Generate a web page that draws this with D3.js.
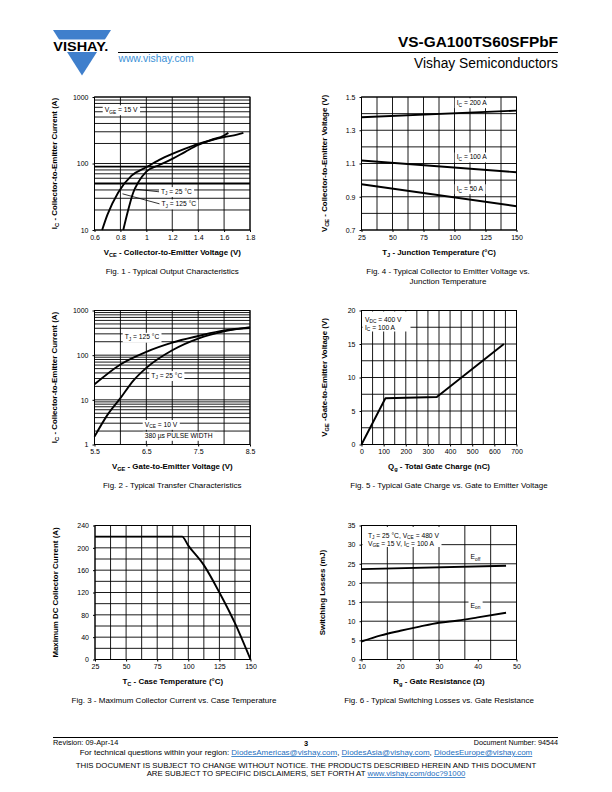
<!DOCTYPE html>
<html><head><meta charset="utf-8">
<script src="https://cdn.jsdelivr.net/npm/d3@7/dist/d3.min.js"></script>
<style>
body{margin:0;background:#fff}
svg{display:block}
text{font-family:"Liberation Sans",Arial,Helvetica,sans-serif;fill:#000}
</style></head><body>
<svg id="page" width="612" height="792"></svg>
<script>
// ---------------- DATA ----------------
// Fig. 1 - Typical Output Characteristics (VGE = 15 V)
const fig1Vce25  = [0.822,0.86,0.899,0.937,1.0,1.1,1.2,1.3,1.4,1.5,1.6,1.633];
const fig1Ic25   = [10,20,36.7,52,75.5,95,117,150,190,226,264,289];
const fig1Vce125 = [0.659,0.7,0.783,0.886,1.0,1.1,1.2,1.3,1.4,1.5,1.6,1.7,1.749];
const fig1Ic125  = [10,17,36.7,65.6,87.8,113,139,167,197,224,249,272,289];
const fig1XTicks = [0.6,0.8,1,1.2,1.4,1.6,1.8];
const fig1YTicks = [10,100,1000];

// Fig. 2 - Typical Transfer Characteristics
const fig2Vge25  = [5.5,5.75,6.0,6.25,6.5,7.0,7.5,8.0,8.5];
const fig2Ic25   = [1.5,4.6,10.9,27,52,129,235,341,424];
const fig2Vge125 = [5.5,6.0,6.5,7.0,7.5,8.0,8.5];
const fig2Ic125  = [22.3,62,119,191,268,359,405];
const fig2XTicks = [5.5,6.5,7.5,8.5];
const fig2YTicks = [1,10,100,1000];

// Fig. 3 - Maximum Collector Current vs. Case Temperature
const fig3Tc = [25,95,100,112.5,125,137.5,150];
const fig3Ic = [220,220,204,169,120,65,0];
const fig3XTicks = [25,50,75,100,125,150];
const fig3YTicks = [0,40,80,120,160,200,240];

// Fig. 4 - Typical Collector to Emitter Voltage vs. Junction Temperature
const fig4Tj = [25,150];
const fig4Vce200 = [1.378,1.418];
const fig4Vce100 = [1.118,1.047];
const fig4Vce50  = [0.975,0.843];
const fig4XTicks = [25,50,75,100,125,150];
const fig4YTicks = [0.7,0.9,1.1,1.3,1.5];

// Fig. 5 - Typical Gate Charge vs. Gate to Emitter Voltage
const fig5Qg  = [0,108,340,643];
const fig5Vge = [0,6.9,7.1,15];
const fig5XTicks = [0,100,200,300,400,500,600,700];
const fig5YTicks = [0,5,10,15,20];

// Fig. 6 - Typical Switching Losses vs. Gate Resistance
const fig6RgOff = [10,47.3];
const fig6Eoff  = [23.6,24.5];
const fig6RgOn  = [10,15,20,25,30,35,40,47.3];
const fig6Eon   = [4.7,6.3,7.5,8.6,9.6,10.2,11.0,12.2];
const fig6XTicks = [10,20,30,40,50];
const fig6YTicks = [0,5,10,15,20,25,30,35];

// ---------------- DRAWING ----------------
const svg = d3.select("#page");
const FONT = '"Liberation Sans",Arial,sans-serif';

// rich text: "I{C} = 100 A" -> braces mark subscript
function rich(sel, str, size){
  sel.attr("font-size", size);
  const parts = str.split(/(\{[^}]*\})/).filter(s=>s.length);
  let shifted = false;
  parts.forEach(p=>{
    if(p[0]==="{"){
      sel.append("tspan").attr("font-size", size*0.72).attr("dy", size*0.28).text(p.slice(1,-1));
      shifted = true;
    } else {
      const t = sel.append("tspan").text(p);
      if(shifted){ t.attr("dy", -size*0.28); shifted=false; }
    }
  });
  return sel;
}
function label(g, x, y, str, size, opts={}){
  const t = g.append("text").attr("x", x).attr("y", y)
    .attr("text-anchor", opts.anchor||"start")
    .attr("font-weight", opts.bold?"bold":"normal");
  rich(t, str, size);
  if(opts.bg){
    const b = t.node().getBBox();
    g.insert("rect", function(){return t.node();})
      .attr("x", b.x-2).attr("y", b.y-0.5).attr("width", b.width+4).attr("height", b.height+1)
      .attr("fill", "#fff");
  }
  return t;
}

function chart(cfg){
  const g = svg.append("g");
  const x = (cfg.xlog?d3.scaleLog():d3.scaleLinear()).domain(cfg.xdom).range([cfg.x0, cfg.x0+cfg.w]);
  const y = (cfg.ylog?d3.scaleLog():d3.scaleLinear()).domain(cfg.ydom).range([cfg.y0+cfg.h, cfg.y0]);
  const grid = g.append("g").attr("stroke","#000").attr("stroke-width",0.9);
  grid.selectAll("line.v").data(cfg.xgrid).enter().append("line")
    .attr("x1", d=>x(d)).attr("x2", d=>x(d)).attr("y1", cfg.y0).attr("y2", cfg.y0+cfg.h);
  grid.selectAll("line.h").data(cfg.ygrid).enter().append("line")
    .attr("y1", d=>y(d)).attr("y2", d=>y(d)).attr("x1", cfg.x0).attr("x2", cfg.x0+cfg.w)
    .attr("stroke-width", d=> (cfg.thick && cfg.thick.includes(d)) ? 1.8 : 0.9);
  g.append("rect").attr("x", cfg.x0).attr("y", cfg.y0).attr("width", cfg.w).attr("height", cfg.h)
    .attr("fill","none").attr("stroke","#000").attr("stroke-width",1);

  const ax = g.append("g").attr("transform", `translate(0,${cfg.y0+cfg.h})`)
    .call(d3.axisBottom(x).tickValues(cfg.xticks).tickFormat(cfg.xfmt||(d=>d)).tickSize(2).tickPadding(3));
  const ay = g.append("g").attr("transform", `translate(${cfg.x0},0)`)
    .call(d3.axisLeft(y).tickValues(cfg.yticks).tickFormat(cfg.yfmt||(d=>d)).tickSize(2).tickPadding(4));
  [ax,ay].forEach(a=>{
    a.select(".domain").remove();
    a.selectAll("text").attr("font-size", 7).attr("font-family", FONT).attr("fill","#000");
    a.selectAll("line").attr("stroke","#000");
  });

  return {g,x,y};
}
function curve(c, xs, ys, smooth){
  const pts = xs.map((v,i)=>[v, ys[i]]);
  const line = d3.line().x(d=>c.x(d[0])).y(d=>c.y(d[1])).curve(smooth?d3.curveMonotoneX:d3.curveLinear);
  c.g.append("path").attr("d", line(pts)).attr("fill","none").attr("stroke","#000")
    .attr("stroke-width",1.9).attr("stroke-linejoin","round");
}
function titles(c, cfg, xt, yt, cap){
  const cx = cfg.x0 + cfg.w/2;
  label(svg, cx, cfg.y0+cfg.h+24.5, xt, 7.9, {anchor:"middle", bold:true});
  const yc = cfg.y0 + cfg.h/2;
  const t = svg.append("text").attr("transform", `translate(${cfg.ytx},${yc}) rotate(-90)`)
    .attr("text-anchor","middle").attr("font-weight","bold");
  rich(t, yt, 7.9);
  cap.forEach((s,i)=>label(svg, cfg.capx||cx, cfg.y0+cfg.h+43.5+i*10, s, 8, {anchor:"middle"}));
}
function logGrid(lo, hi){
  const out=[];
  for(let d=lo; d<hi; d*=10){ for(let k=1;k<=10;k++){ const v=+(d*k).toPrecision(6); if(v<=hi && !out.includes(v)) out.push(v); } }
  return out;
}
function stepGrid(a,b,n){ return d3.range(n+1).map(i=>a+(b-a)*i/n); }

// ---------- Header ----------
const hdr = svg.append("g");
hdr.append("polygon").attr("points","53,30 111,30 82,75.5").attr("fill","#3f7fcc");
hdr.append("rect").attr("x",50).attr("y",39.5).attr("width",65).attr("height",12.5).attr("fill","#fff");
hdr.append("text").attr("x",53.3).attr("y",50.8).attr("font-size",13).attr("font-weight","bold")
  .attr("textLength",55).attr("lengthAdjust","spacingAndGlyphs").text("VISHAY.");
hdr.append("text").attr("x",118.5).attr("y",62).attr("font-size",10.3).style("fill","#3a8fd6").text("www.vishay.com");
hdr.append("line").attr("x1",118).attr("x2",558).attr("y1",52.5).attr("y2",52.5).attr("stroke","#000").attr("stroke-width",1);
hdr.append("text").attr("x",558).attr("y",47).attr("text-anchor","end").attr("font-size",15.4).attr("font-weight","bold").text("VS-GA100TS60SFPbF");
hdr.append("text").attr("x",558).attr("y",67.5).attr("text-anchor","end").attr("font-size",13.8).text("Vishay Semiconductors");

// ---------- Fig 1 ----------
const cfg1 = {x0:94.5,y0:97,w:155.5,h:133,xdom:[0.6,1.8],ydom:[10,1000],ylog:true,
  xgrid:fig1XTicks, ygrid:logGrid(10,1000), thick:[50,90], xticks:fig1XTicks, yticks:fig1YTicks, ytx:57};
const c1 = chart(cfg1);
curve(c1, fig1Vce25, fig1Ic25, true);
curve(c1, fig1Vce125, fig1Ic125, true);
c1.g.append("line").attr("x1",c1.x(0.92)).attr("y1",c1.y(41)).attr("x2",c1.x(1.1)).attr("y2",c1.y(37.5)).attr("stroke","#000").attr("stroke-width",0.8);
c1.g.append("line").attr("x1",c1.x(0.816)).attr("y1",c1.y(35)).attr("x2",c1.x(1.11)).attr("y2",c1.y(24.5)).attr("stroke","#000").attr("stroke-width",0.8);
label(c1.g, 104.7, 111.8, "V{GE} = 15 V", 6.7, {bg:true});
label(c1.g, 161, 193.6, "T{J} = 25 °C", 6.7, {bg:true});
label(c1.g, 161.5, 206, "T{J} = 125 °C", 6.7, {bg:true});
titles(c1, cfg1, "V{CE} - Collector-to-Emitter Voltage (V)", "I{C} - Collector-to-Emitter Current (A)", ["Fig. 1 - Typical Output Characteristics"]);

// ---------- Fig 4 ----------
const cfg4 = {x0:361.5,y0:97,w:155,h:133,xdom:[25,150],ydom:[0.7,1.5],capx:448,
  xgrid:stepGrid(25,150,10), ygrid:stepGrid(0.7,1.5,8), xticks:fig4XTicks, yticks:fig4YTicks, yfmt:d3.format(".1f"), ytx:327};
const c4 = chart(cfg4);
curve(c4, fig4Tj, fig4Vce200);
curve(c4, fig4Tj, fig4Vce100);
curve(c4, fig4Tj, fig4Vce50);
label(c4.g, 456.7, 104.8, "I{C} = 200 A", 6.7, {bg:true});
label(c4.g, 456.7, 159, "I{C} = 100 A", 6.7, {bg:true});
label(c4.g, 456.7, 190.8, "I{C} = 50 A", 6.7, {bg:true});
titles(c4, cfg4, "T{J} - Junction Temperature (°C)", "V{CE} - Collector-to-Emitter Voltage (V)",
  ["Fig. 4 - Typical Collector to Emitter Voltage vs.", "Junction Temperature"]);

// ---------- Fig 2 ----------
const cfg2 = {x0:94.5,y0:310.5,w:155.5,h:134,xdom:[5.5,8.5],ydom:[1,1000],ylog:true,
  xgrid:stepGrid(5.5,8.5,6), ygrid:logGrid(1,1000), xticks:fig2XTicks, yticks:fig2YTicks, ytx:57};
const c2 = chart(cfg2);
curve(c2, fig2Vge25, fig2Ic25, true);
curve(c2, fig2Vge125, fig2Ic125, true);
label(c2.g, 124.7, 339.3, "T{J} = 125 °C", 6.7, {bg:true});
label(c2.g, 151.3, 377.6, "T{J} = 25 °C", 6.7, {bg:true});
label(c2.g, 144.7, 426.5, "V{CE} = 10 V", 6.7, {bg:true});
label(c2.g, 144.7, 438.3, "380 µs PULSE WIDTH", 6.7, {bg:true});
titles(c2, cfg2, "V{GE} - Gate-to-Emitter Voltage (V)", "I{C} - Collector-to-Emitter Current (A)", ["Fig. 2 - Typical Transfer Characteristics"]);

// ---------- Fig 5 ----------
const cfg5 = {x0:361.5,y0:310.5,w:155,h:134,xdom:[0,700],ydom:[0,20],capx:449,
  xgrid:stepGrid(0,700,14), ygrid:stepGrid(0,20,8), xticks:fig5XTicks, yticks:fig5YTicks, ytx:327};
const c5 = chart(cfg5);
c5.g.append("rect").attr("x",362.5).attr("y",311.5).attr("width",48).attr("height",20).attr("fill","#fff");
curve(c5, fig5Qg, fig5Vge);
label(c5.g, 365, 321.5, "V{DC} = 400 V", 6.7);
label(c5.g, 365, 329.5, "I{C} = 100 A", 6.7);
titles(c5, cfg5, "Q{g} - Total Gate Charge (nC)", "V{GE} -Gate-to-Emitter Voltage (V)", ["Fig. 5 - Typical Gate Charge vs. Gate to Emitter Voltage"]);

// ---------- Fig 3 ----------
const cfg3 = {x0:95,y0:525.5,w:155.5,h:134,xdom:[25,150],ydom:[0,240],capx:174,
  xgrid:stepGrid(25,150,10), ygrid:stepGrid(0,240,12), xticks:fig3XTicks, yticks:fig3YTicks, ytx:58};
const c3 = chart(cfg3);
curve(c3, fig3Tc, fig3Ic, true);
titles(c3, cfg3, "T{C} - Case Temperature (°C)", "Maximum DC Collector Current (A)", ["Fig. 3 - Maximum Collector Current vs. Case Temperature"]);

// ---------- Fig 6 ----------
const cfg6 = {x0:361.5,y0:525.5,w:155,h:134,xdom:[10,50],ydom:[0,35],
  xgrid:stepGrid(10,50,6), ygrid:stepGrid(0,35,7), xticks:fig6XTicks, yticks:fig6YTicks, ytx:325};
const c6 = chart(cfg6);
c6.g.append("rect").attr("x",362.5).attr("y",527).attr("width",79).attr("height",20).attr("fill","#fff");
curve(c6, fig6RgOff, fig6Eoff);
curve(c6, fig6RgOn, fig6Eon, true);
label(c6.g, 368, 537.5, "T{J} = 25 °C, V{CE} = 480 V", 6.7);
label(c6.g, 368, 545.5, "V{GE} = 15 V, I{C} = 100 A", 6.7);
label(c6.g, 470.5, 559, "E{off}", 6.7, {bg:true});
label(c6.g, 470.5, 607.5, "E{on}", 6.7, {bg:true});
titles(c6, cfg6, "R{g} -  Gate Resistance (Ω)", "Switching Losses (mJ)", ["Fig. 6 - Typical Switching Losses vs. Gate Resistance"]);

// ---------- Footer ----------
const ft = svg.append("g");
const LINK = "#1e6fc0";
ft.append("line").attr("x1",53).attr("x2",558).attr("y1",737.5).attr("y2",737.5).attr("stroke","#000").attr("stroke-width",1);
ft.append("text").attr("x",53).attr("y",745).attr("font-size",7.4).text("Revision: 09-Apr-14");
ft.append("text").attr("x",306).attr("y",745.5).attr("text-anchor","middle").attr("font-size",7.4).attr("font-weight","bold").text("3");
ft.append("text").attr("x",558).attr("y",745).attr("text-anchor","end").attr("font-size",7.2).text("Document Number: 94544");
const l2 = ft.append("text").attr("x",306).attr("y",755).attr("text-anchor","middle").attr("font-size",8.0);
l2.append("tspan").text("For technical questions within your region: ");
l2.append("tspan").style("fill",LINK).attr("text-decoration","underline").text("DiodesAmericas@vishay.com");
l2.append("tspan").text(", ");
l2.append("tspan").style("fill",LINK).attr("text-decoration","underline").text("DiodesAsia@vishay.com");
l2.append("tspan").text(", ");
l2.append("tspan").style("fill",LINK).attr("text-decoration","underline").text("DiodesEurope@vishay.com");
ft.append("text").attr("x",306).attr("y",767.5).attr("text-anchor","middle").attr("font-size",7.8)
  .text("THIS DOCUMENT IS SUBJECT TO CHANGE WITHOUT NOTICE. THE PRODUCTS DESCRIBED HEREIN AND THIS DOCUMENT");
const l4 = ft.append("text").attr("x",306).attr("y",776).attr("text-anchor","middle").attr("font-size",7.8);
l4.append("tspan").text("ARE SUBJECT TO SPECIFIC DISCLAIMERS, SET FORTH AT ");
l4.append("tspan").style("fill",LINK).attr("text-decoration","underline").text("www.vishay.com/doc?91000");
</script>
</body></html>
